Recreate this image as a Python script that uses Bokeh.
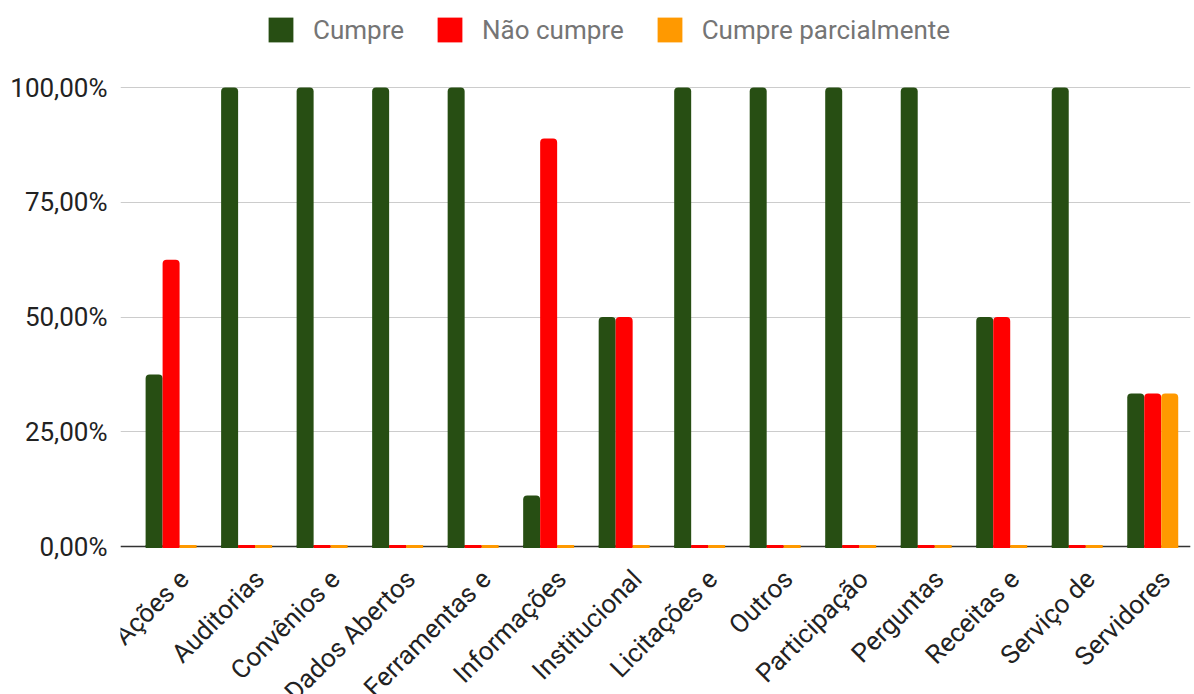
import math
from bokeh.plotting import figure
from bokeh.models import (ColumnDataSource, Range1d, FixedTicker, Legend, LegendItem,
                          LabelSet, Span)
from bokeh.core.properties import value
from bokeh.embed import file_html
from bokeh.resources import INLINE

categories = ["Ações e", "Auditorias", "Convênios e", "Dados Abertos", "Ferramentas e",
              "Informações", "Institucional", "Licitações e", "Outros", "Participação",
              "Perguntas", "Receitas e", "Serviço de", "Servidores"]
cumpre = [0.375, 1.0, 1.0, 1.0, 1.0, 0.1111, 0.5, 1.0, 1.0, 1.0, 1.0, 0.5, 1.0, 0.3333]
nao_cumpre = [0.625, 0.0, 0.0, 0.0, 0.0, 0.8889, 0.5, 0.0, 0.0, 0.0, 0.0, 0.5, 0.0, 0.3333]
cumpre_parcialmente = [0.0, 0.0, 0.0, 0.0, 0.0, 0.0, 0.0, 0.0, 0.0, 0.0, 0.0, 0.0, 0.0, 0.3333]
series_names = ["Cumpre", "Não cumpre", "Cumpre parcialmente"]
series_colors = ["#274e13", "#ff0000", "#ff9900"]
y_ticks = [0.0, 0.25, 0.5, 0.75, 1.0]
y_tick_labels = ["0,00%", "25,00%", "50,00%", "75,00%", "100,00%"]

FONT = "Roboto"
W, H = 1194, 694
PLOT_TOP, PLOT_BOTTOM = 87, 546          # pixel rows of 100% and 0%
n = len(categories)
xs = [i + 0.5 for i in range(n)]
bw = 0.225

px_per_unit = (PLOT_BOTTOM - PLOT_TOP) / 1.0
y_start = -(H - PLOT_BOTTOM) / px_per_unit
y_end = 1.0 + PLOT_TOP / px_per_unit

p = figure(width=W, height=H, output_backend="svg", toolbar_location=None,
           x_range=Range1d(-0.17, n), y_range=Range1d(y_start, y_end),
           min_border_left=120, min_border_right=4, min_border_top=0, min_border_bottom=0)
p.outline_line_color = None
p.background_fill_color = "white"
p.border_fill_color = "white"

# grid
p.xgrid.grid_line_color = None
p.ygrid.grid_line_color = "#cccccc"
p.ygrid.grid_line_width = 1

# baseline (under the bars so the zero-height bars show on top of it)
p.add_layout(Span(location=0, dimension="width", line_color="#333333", line_width=1.5,
                  level="underlay"))

renderers = []
for k, (vals, name, color) in enumerate(zip([cumpre, nao_cumpre, cumpre_parcialmente],
                                             series_names, series_colors)):
    src = ColumnDataSource(dict(x=[x + (k - 1) * bw for x in xs], top=vals))
    p.rect(x="x", y=0, width=bw, height=3, height_units="screen", source=src,
           fill_color=color, line_color=None)
    r = p.vbar(x="x", top="top", width=bw, source=src, fill_color=color, line_color=None,
               border_radius=(4, 4, 0, 0))
    renderers.append((name, r))

# y axis
p.yaxis.ticker = FixedTicker(ticks=y_ticks)
p.yaxis.major_label_overrides = {t: l for t, l in zip(y_ticks, y_tick_labels)}
p.yaxis.axis_line_color = None
p.yaxis.major_tick_line_color = None
p.yaxis.minor_tick_line_color = None
p.yaxis.major_label_text_font = FONT
p.yaxis.major_label_text_font_size = "26px"
p.yaxis.major_label_text_color = "#222222"
p.yaxis.major_label_standoff = 7

# x axis hidden; category labels drawn as a LabelSet (run off the bottom like the reference)
p.xaxis.visible = False

lab_src = ColumnDataSource(dict(x=xs, y=[0.0] * n, text=categories))
labels = LabelSet(x="x", y="y", text="text", source=lab_src, angle=math.pi / 4,
                  text_align="right", text_baseline="middle", x_offset=13, y_offset=-28,
                  text_font=value(FONT), text_font_size=value("26px"),
                  text_color="#222222")
p.add_layout(labels)

legend = Legend(items=[LegendItem(label=nm, renderers=[r]) for nm, r in renderers],
                orientation="horizontal", location=(145, H - 45),
                label_text_font=FONT, label_text_font_size="26px",
                label_text_color="#757575", glyph_width=31, glyph_height=31,
                label_standoff=17, spacing=30, padding=0, margin=0,
                border_line_color=None, background_fill_alpha=0)
p.add_layout(legend)

open("out.html", "w").write(file_html(p, INLINE))
